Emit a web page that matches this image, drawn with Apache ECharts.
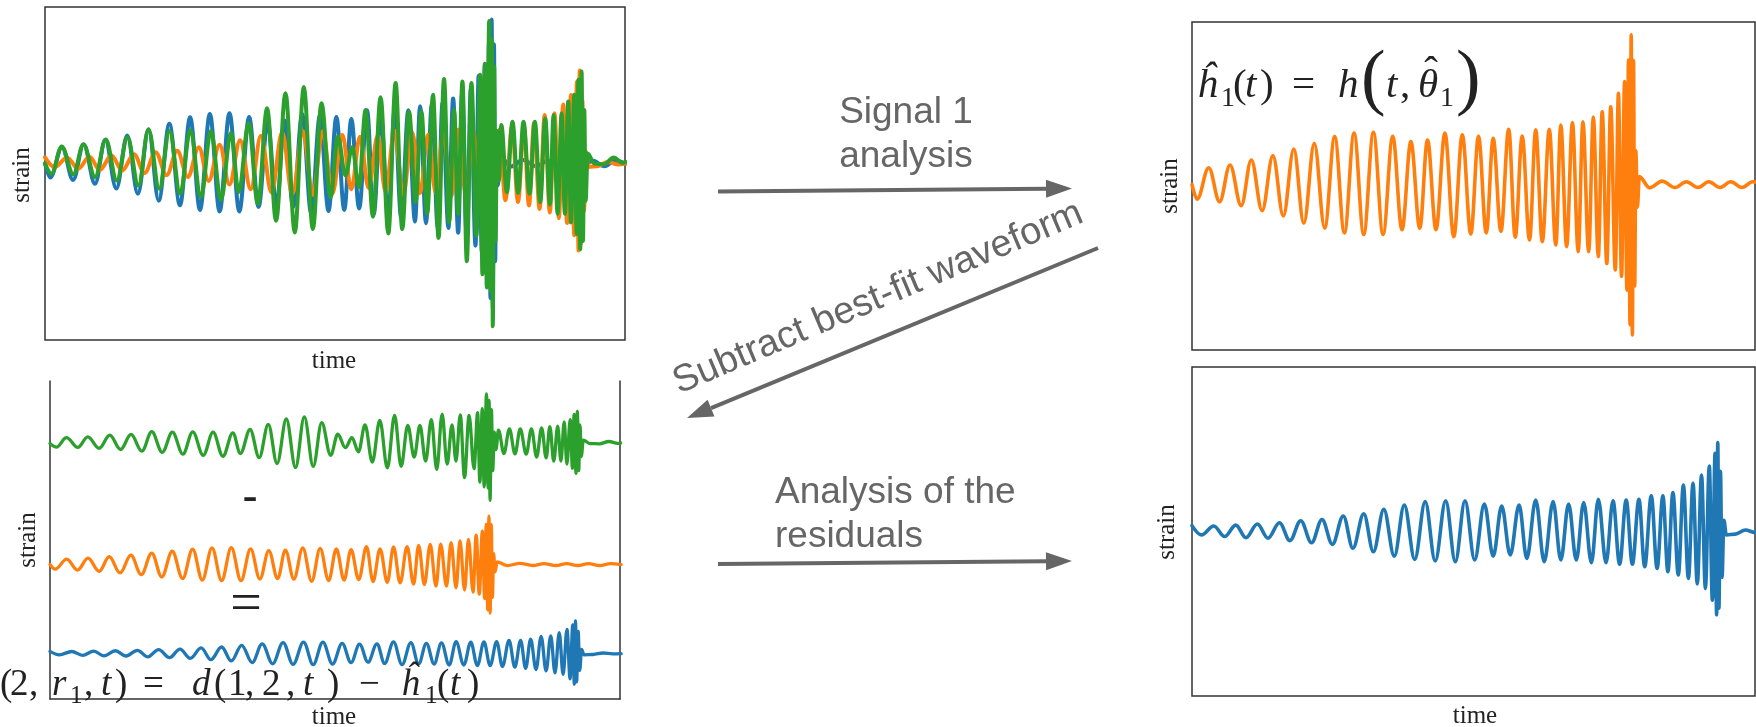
<!DOCTYPE html>
<html>
<head>
<meta charset="utf-8">
<script src="https://cdn.jsdelivr.net/npm/echarts@6/dist/echarts.min.js"></script>
<style>
  html, body { margin: 0; padding: 0; background: #fff; }
  #chart { width: 1756px; height: 727px; }
</style>
</head>
<body>
<div id="chart"></div>
<script>
// Gravitational-wave strain traces, stored as [time, strain] turning points
// (time in % of the right-hand plot window, strain in arbitrary units).

// best-fit waveform of signal 1 (early merger)
const signal1 = [
  [0, -0.01], [0.92, -0.1], [2.97, 0.095], [4.9, -0.116], [6.75, 0.112], [8.74, -0.141],
  [10.53, 0.143], [12.45, -0.172], [14.37, 0.17], [16.22, -0.205], [18.08, 0.211], [19.86, -0.25],
  [21.72, 0.246], [23.57, -0.28], [25.35, 0.288], [27.07, -0.31], [28.79, 0.31], [30.5, -0.32],
  [32.22, 0.315], [33.94, -0.32], [35.65, 0.29], [37.3, -0.29], [38.88, 0.257], [40.46, -0.28],
  [41.83, 0.267], [43.34, -0.29], [44.92, 0.31], [46.5, -0.333], [48.01, 0.3], [49.52, -0.317],
  [50.89, 0.29], [52.27, -0.31], [53.5, 0.277], [54.87, -0.3], [56.25, 0.333], [57.41, -0.337],
  [58.65, 0.292], [59.95, -0.354], [61.05, 0.33], [62.22, -0.364], [63.46, 0.333], [64.62, -0.385],
  [65.51, 0.36], [66.54, -0.395], [67.57, 0.375], [68.6, -0.426], [69.43, 0.38], [70.46, -0.426],
  [71.28, 0.41], [72.17, -0.457], [72.86, 0.443], [73.68, -0.5], [74.37, 0.474], [75.19, -0.54],
  [75.74, 0.557], [76.29, -0.58], [76.84, 0.63], [77.25, -0.665], [77.53, 0.764], [77.8, -0.88],
  [78.01, 0.92], [78.22, -0.944], [78.42, 0.76], [78.63, -0.64], [78.83, 0.2], [79.11, -0.15],
  [79.45, 0.04], [81.3, -0.03], [83.5, 0.012], [85.8, -0.028], [87.8, 0.008], [89.9, -0.028],
  [91.8, 0.008], [93.8, -0.028], [95.7, 0.008], [97.7, -0.028], [99.6, 0.008], [101.5, -0.01]
];

// residual signal 2 (late merger)
const signal2 = [
  [0, 0.027], [1.67, -0.03], [3.87, 0.025], [5.79, -0.04], [7.78, 0.03], [9.57, -0.047],
  [11.62, 0.037], [13.48, -0.05], [15.54, 0.045], [17.39, -0.065], [19.31, 0.057], [21.24, -0.078],
  [23.09, 0.065], [24.94, -0.088], [26.87, 0.086], [28.58, -0.112], [30.5, 0.1], [32.22, -0.133],
  [34.07, 0.127], [35.93, -0.16], [37.71, 0.153], [39.56, -0.18], [41.42, 0.174], [43.2, -0.19],
  [45.06, 0.18], [46.77, -0.194], [48.49, 0.18], [50.21, -0.184], [51.92, 0.16], [53.5, -0.16],
  [55.01, 0.147], [56.52, -0.153], [58.1, 0.153], [59.47, -0.174], [61.05, 0.184], [62.56, -0.194],
  [64.14, 0.174], [65.51, -0.184], [66.89, 0.16], [68.26, -0.184], [69.57, 0.168], [70.94, -0.2],
  [72.17, 0.188], [73.54, -0.2], [74.78, 0.18], [75.95, -0.21], [77.12, 0.184], [78.22, -0.21],
  [79.38, 0.188], [80.41, -0.225], [81.58, 0.21], [82.61, -0.235], [83.64, 0.21], [84.53, -0.256],
  [85.42, 0.23], [86.38, -0.276], [87.28, 0.276], [88.17, -0.297], [88.99, 0.286], [89.75, -0.33],
  [90.5, 0.337], [91.19, -0.358], [91.88, 0.393], [92.43, -0.43], [92.91, 0.47], [93.18, -0.52],
  [93.39, 0.536], [93.59, -0.48], [93.86, 0.36], [94.14, -0.29], [94.48, 0.06], [94.9, -0.03],
  [96.5, -0.025], [98.3, 0.0], [100, -0.015], [101.5, -0.01]
];

// detector data d(1, 2, t): both signals together
const detectorData = [
  [0, -0.01], [1.16, -0.076], [2.92, 0.1], [4.95, -0.08], [6.71, 0.115], [8.74, -0.097],
  [10.62, 0.145], [12.54, -0.12], [14.4, 0.158], [16.33, -0.152], [18.08, 0.21], [19.95, -0.173],
  [21.75, 0.2], [23.62, -0.205], [25.37, 0.205], [27.23, -0.227], [28.98, 0.2], [30.73, -0.245],
  [32.49, 0.188], [33.83, -0.195], [35.56, 0.25], [37.18, -0.27], [38.79, 0.346], [40.36, -0.38],
  [42.0, 0.444], [43.63, -0.455], [45.2, 0.483], [46.78, -0.433], [48.29, 0.379], [49.87, -0.227],
  [51.15, 0.162], [52.49, -0.087], [53.66, 0.097], [54.82, -0.162], [55.99, 0.335], [57.28, -0.353],
  [58.61, 0.418], [59.96, -0.461], [61.24, 0.509], [62.4, -0.433], [63.58, 0.325], [64.73, -0.26],
  [65.74, 0.325], [66.76, -0.335], [67.77, 0.433], [68.73, -0.49], [69.69, 0.535], [70.58, -0.39],
  [71.45, 0.335], [72.15, -0.335], [72.91, 0.52], [73.67, -0.64], [74.48, 0.51], [75.36, -0.476],
  [76.0, 0.563], [76.4, -0.725], [76.82, 0.634], [77.16, -0.81], [77.57, 0.909], [77.86, -0.833],
  [78.04, 0.79], [78.21, -1.06], [78.45, 0.617], [78.68, -0.51], [78.95, 0.2], [79.25, -0.12],
  [79.7, 0.238], [80.67, -0.195], [81.65, 0.26], [82.64, -0.2], [83.57, 0.26], [84.63, -0.205],
  [85.56, 0.26], [86.49, -0.26], [87.37, 0.281], [88.18, -0.275], [88.83, 0.303], [89.53, -0.335],
  [90.23, 0.314], [90.8, -0.335], [91.39, 0.39], [91.86, -0.39], [92.45, 0.433], [92.85, -0.465],
  [93.15, 0.53], [93.49, -0.563], [93.72, 0.584], [93.96, -0.51], [94.19, 0.335], [94.42, -0.25],
  [94.78, 0.054], [95.93, -0.01], [97.65, -0.015], [99.32, 0.028], [100.9, -0.006], [101.4, 0]
];

// axis titles and step captions
const xTitle = 'time';
const yTitle = 'strain';
const stepCaptions = ['Signal 1\nanalysis', 'Subtract best-fit waveform', 'Analysis of the\nresiduals'];

const BLUE = '#1f77b4', ORANGE = '#ff7f0e', GREEN = '#2ca02c';
const FRAME = '#333';
const GREY = '#666';
const SERIF = '"Liberation Serif", "DejaVu Serif", serif';
const SANS = '"Liberation Sans", Arial, sans-serif';

const chart = echarts.init(document.getElementById('chart'), null, { renderer: 'canvas' });

function wave(data, color, xi, yi, width) {
  return {
    type: 'line', data, xAxisIndex: xi, yAxisIndex: yi,
    showSymbol: false, symbol: 'none', smooth: 0.36, smoothMonotone: 'x',
    silent: true, animation: false, clip: true,
    lineStyle: { color, width, cap: 'round', join: 'round' }
  };
}

function xAxis(gridIndex, max, spine) {
  return {
    type: 'value', gridIndex, min: 0, max, show: !!spine,
    axisLine: { show: !!spine, onZero: false, lineStyle: { color: FRAME, width: 1.5 } },
    axisTick: { show: false }, axisLabel: { show: false }, splitLine: { show: false }
  };
}

function yAxis(gridIndex, min, max, spine) {
  return {
    type: 'value', gridIndex, min, max, show: !!spine, position: spine || 'left',
    axisLine: { show: !!spine, onZero: false, lineStyle: { color: FRAME, width: 1.5 } },
    axisTick: { show: false }, axisLabel: { show: false }, splitLine: { show: false }
  };
}

const framed = { show: true, borderColor: FRAME, borderWidth: 1.5, backgroundColor: 'transparent' };
const lowerLeft = { left: 50, top: 381, width: 570, height: 318 };

// annotation helpers
function label(text, x, y, o) {
  return {
    type: 'text', x, y, rotation: o.rotation || 0, z: 100, silent: true,
    style: {
      text, fill: o.fill || '#222', fontSize: o.size, fontFamily: o.family || SERIF,
      fontStyle: o.italic ? 'italic' : 'normal', fontWeight: o.bold ? 'bold' : 'normal',
      align: o.align || 'left', verticalAlign: 'middle', lineHeight: o.lineHeight
    }
  };
}

function arrow(x1, y1, x2, y2) {
  const len = Math.hypot(x2 - x1, y2 - y1);
  const ux = (x2 - x1) / len, uy = (y2 - y1) / len;
  const head = 26, half = 9;
  const bx = x2 - ux * head, by = y2 - uy * head;
  return [
    { type: 'line', z: 100, silent: true, shape: { x1, y1, x2: bx, y2: by },
      style: { stroke: GREY, lineWidth: 4 } },
    { type: 'polygon', z: 100, silent: true,
      shape: { points: [[x2, y2], [bx - uy * half, by + ux * half], [bx + uy * half, by - ux * half]] },
      style: { fill: GREY } }
  ];
}

// pieces of the two formulas: [text, left x, kind]
const fitFormula = [
  ['ĥ', 1197, 'it'], ['1', 1221, 'sub'], ['(', 1233, 'rm'], ['t', 1245, 'it'], [')', 1260, 'rm'],
  ['=', 1292, 'rm'], ['h', 1338, 'it'], ['(', 1361, 'big'], ['t', 1386, 'it'], [',', 1400, 'rm'],
  ['θ', 1418, 'it'], ['ˆ', 1431, 'hat'], ['1', 1440, 'sub'], [')', 1456, 'big']
];
const residualFormula = [
  ['(', 0, 'rm'], ['2', 10, 'rm'], [',', 29, 'rm'], ['r', 52, 'it'], ['1', 70, 'sub'], [',', 84, 'rm'],
  ['t', 101, 'it'], [')', 115, 'rm'], ['=', 143, 'rm'], ['d', 192, 'it'], ['(', 214, 'rm'],
  ['1', 228, 'rm'], [',', 245, 'rm'], ['2', 262, 'rm'], [',', 286, 'rm'], ['t', 303, 'it'],
  [')', 327, 'rm'], ['−', 359, 'rm'], ['ĥ', 401, 'it'], ['1', 425, 'sub'], ['(', 437, 'rm'],
  ['t', 450, 'it'], [')', 467, 'rm']
];

function formula(pieces, baseline, size) {
  return pieces.map(([t, x, kind]) => {
    if (kind === 'sub') {
      const s = size * 0.68;
      return label(t, x, baseline + size * 0.2 - s * 0.34, { size: s });
    }
    if (kind === 'big') return label(t, x, baseline - 18, { size: size * 1.8 });
    if (kind === 'hat') return label(t, x, baseline - 27, { size, align: 'center' });
    return label(t, x, baseline - size * 0.34, { size, italic: kind === 'it' });
  });
}

const graphics = [
  // axis titles
  label(xTitle, 334, 361, { size: 25, align: 'center' }),
  label(xTitle, 334, 717, { size: 25, align: 'center' }),
  label(xTitle, 1475, 716, { size: 25, align: 'center' }),
  label(yTitle, 22, 175, { size: 25, align: 'center', rotation: Math.PI / 2 }),
  label(yTitle, 28, 540, { size: 25, align: 'center', rotation: Math.PI / 2 }),
  label(yTitle, 1170, 186, { size: 25, align: 'center', rotation: Math.PI / 2 }),
  label(yTitle, 1167, 532, { size: 25, align: 'center', rotation: Math.PI / 2 }),
  // operators between the stacked traces
  label('-', 250, 499, { size: 44, align: 'center', bold: true }),
  label('=', 246, 606, { size: 56, align: 'center' }),
  // step captions
  label(stepCaptions[0], 906, 135, { size: 37, family: SANS, fill: GREY, align: 'center', lineHeight: 44 }),
  label(stepCaptions[1], 878, 298, { size: 38, family: SANS, fill: GREY, align: 'center', rotation: 23 * Math.PI / 180 }),
  label(stepCaptions[2], 775, 515, { size: 37, family: SANS, fill: GREY, align: 'left', lineHeight: 44 }),
  ...arrow(718, 191.5, 1072, 188.5),
  ...arrow(1098, 248, 687, 418),
  ...arrow(718, 564, 1072, 561),
  ...formula(fitFormula, 100, 41),
  ...formula(residualFormula, 698, 37)
];

const option = {
  backgroundColor: '#fff',
  animation: false,
  grid: [
    Object.assign({ left: 45, top: 7, width: 580, height: 333 }, framed),    // data
    Object.assign({}, lowerLeft),                                           // data (stacked)
    Object.assign({}, lowerLeft),                                           // best fit (stacked)
    Object.assign({}, lowerLeft),                                           // residual (stacked)
    Object.assign({ left: 1192, top: 22, width: 563, height: 328 }, framed), // best fit
    Object.assign({ left: 1192, top: 367, width: 563, height: 329 }, framed) // residual
  ],
  xAxis: [
    xAxis(0, 101.3), xAxis(1, 101.3, true), xAxis(2, 101.3), xAxis(3, 101.3),
    xAxis(4, 100), xAxis(5, 100)
  ],
  yAxis: [
    yAxis(0, -1.149, 1.0),
    yAxis(0, -1.045, 0.909),
    yAxis(1, -4.74, 1.148, 'left'),
    yAxis(2, -2.596, 3.52, 'right'),
    yAxis(3, -0.767, 4.533),
    yAxis(4, -1.037, 1.0),
    yAxis(5, -1.018, 1.0)
  ],
  series: [
    wave(signal1, BLUE, 0, 0, 4),
    wave(signal2, ORANGE, 0, 1, 4),
    wave(detectorData, GREEN, 0, 0, 4),
    wave(detectorData, GREEN, 1, 2, 3.3),
    wave(signal1, ORANGE, 2, 3, 3.3),
    wave(signal2, BLUE, 3, 4, 3.3),
    wave(signal1, ORANGE, 4, 5, 3.6),
    wave(signal2, BLUE, 5, 6, 3.6)
  ],
  graphic: { elements: graphics }
};

chart.setOption(option);
</script>
</body>
</html>
